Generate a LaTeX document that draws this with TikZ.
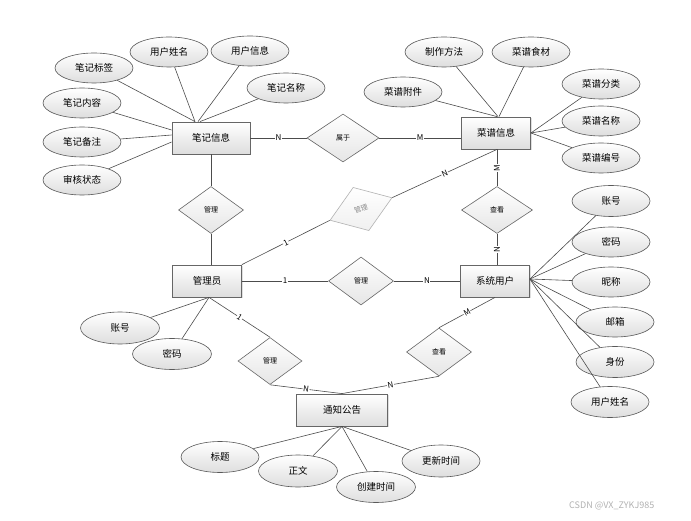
\documentclass[tikz,border=0pt]{standalone}
\usepackage{fontspec}
\setmainfont{Noto Sans CJK SC}
\usetikzlibrary{shapes.geometric,shadows}
\begin{document}
\begin{tikzpicture}[x=1pt,y=-1pt,
 ent/.style={rectangle,draw=black!60,line width=0.8pt,top color=white,bottom color=black!13,minimum width=69pt,minimum height=32pt,inner sep=0pt,font=\fontsize{9.5}{10}\selectfont,drop shadow={shadow xshift=1pt,shadow yshift=-1pt,opacity=0.25}},
 attr/.style={ellipse,draw=black!65,line width=0.6pt,top color=white,bottom color=black!13,minimum width=78pt,minimum height=30pt,inner sep=0pt,font=\fontsize{9.5}{10}\selectfont},
 rel/.style={diamond,draw=black!60,line width=0.6pt,top color=white,bottom color=black!10,minimum width=65pt,minimum height=47pt,inner sep=0pt,font=\fontsize{7}{8}\selectfont},
 con/.style={draw=black!70,line width=0.6pt},
 card/.style={fill=white,inner sep=0.6pt,font=\fontsize{8}{8}\selectfont,sloped}
]
\fill[white] (0,0) rectangle (691,521);
\useasboundingbox (0,0) rectangle (691,521);

% entities
\node[ent,minimum width=78pt] (nb) at (211,138) {笔记信息};
\node[ent] (cp) at (496,133) {菜谱信息};
\node[ent] (gly) at (207,281) {管理员};
\node[ent] (xt) at (495,281) {系统用户};
\node[ent,minimum width=91pt] (tz) at (342,410) {通知公告};

% relations
\node[rel,minimum width=72pt,minimum height=48pt] (sy) at (343,138) {属于};
\node[rel] (gl1) at (211,210) {管理};
\node[rel,minimum width=71pt] (ck1) at (497,210) {查看};
\node[rel,minimum height=48pt] (gl2) at (361,281) {管理};
\node[rel,minimum width=64pt] (gl3) at (270,361) {管理};
\node[rel,minimum height=48pt] (ck2) at (439,352) {查看};
\node[rel,rotate=20,draw=black!30,bottom color=black!6,text=black!45,minimum width=66pt,minimum height=46pt] (gl4) at (361,209) {管理};

% note attributes
\node[attr] (a1) at (94,68) {笔记标签};
\node[attr] (a2) at (169,52) {用户姓名};
\node[attr] (a3) at (250,51) {用户信息};
\node[attr] (a4) at (286,88) {笔记名称};
\node[attr] (a5) at (82,103) {笔记内容};
\node[attr] (a6) at (82,142) {笔记备注};
\node[attr] (a7) at (82,180) {审核状态};

% recipe attributes
\node[attr] (b1) at (444,52) {制作方法};
\node[attr] (b2) at (531,52) {菜谱食材};
\node[attr] (b3) at (403,92) {菜谱附件};
\node[attr] (b4) at (601,84) {菜谱分类};
\node[attr] (b5) at (601,121) {菜谱名称};
\node[attr] (b6) at (601,158) {菜谱编号};

% admin attributes
\node[attr,minimum width=79pt,minimum height=32pt] (c1) at (120,328) {账号};
\node[attr,minimum width=79pt,minimum height=31pt] (c2) at (172,354) {密码};

% user attributes
\node[attr,minimum height=31pt] (d1) at (611,201) {账号};
\node[attr] (d2) at (611,242) {密码};
\node[attr] (d3) at (611,282) {昵称};
\node[attr] (d4) at (615,322) {邮箱};
\node[attr,minimum height=31pt] (d5) at (615,362) {身份};
\node[attr,minimum height=31pt] (d6) at (610,402) {用户姓名};

% notice attributes
\node[attr,minimum height=31pt] (e1) at (220,457) {标题};
\node[attr,minimum width=79pt,minimum height=32pt] (e2) at (298,471) {正文};
\node[attr,minimum width=79pt,minimum height=31pt] (e3) at (376,487) {创建时间};
\node[attr,minimum height=32pt] (e4) at (441,461) {更新时间};

% attribute connectors
\draw[con] (a1) -- ([xshift=-16pt]nb.north);
\draw[con] (a2) -- ([xshift=-16pt]nb.north);
\draw[con] (a3) -- ([xshift=-13pt]nb.north);
\draw[con] (a4) -- ([xshift=-11pt]nb.north);
\draw[con] (a5) -- ([yshift=8pt]nb.west);
\draw[con] (a6) -- ([yshift=3pt]nb.west);
\draw[con] (a7) -- ([yshift=-4pt]nb.west);

\draw[con] (b3) -- ([xshift=1pt]cp.north);
\draw[con] (b1) -- ([xshift=2pt]cp.north);
\draw[con] (b2) -- ([xshift=3pt]cp.north);
\draw[con] (b4) -- (cp.east);
\draw[con] (b5) -- (cp.east);
\draw[con] (b6) -- (cp.east);

\draw[con] (c1) -- ([xshift=2pt]gly.south);
\draw[con] (c2) -- ([xshift=2pt]gly.south);

\foreach \d in {d1,d2,d3,d4,d5,d6} \draw[con] (\d) -- ([yshift=2pt]xt.east);

\foreach \e in {e1,e2,e3,e4} \draw[con] (\e) -- (tz.south);

% relation connectors
\draw[con] (nb.east) -- node[card]{N} (sy.west);
\draw[con] (sy.east) -- node[card]{M} (sy.east -| cp.west);
\draw[con] (nb.south) -- (nb.south |- gl1.north);
\draw[con] (gl1.south) -- (gl1.south |- gly.north);
\draw[con] (gly.north east) -- node[card]{1} (gl4.west);
\draw[con] (gl4.east) -- node[card]{N} ([xshift=1pt]cp.south);
\draw[con] (ck1.north) -- node[card]{M} (ck1.north |- cp.south);
\draw[con] (ck1.south |- xt.north) -- node[card]{N} (ck1.south);
\draw[con] (gly.east) -- node[card]{1} (gl2.west);
\draw[con] (gl2.east) -- node[card]{N} (xt.west);
\draw[con] ([xshift=2pt]gly.south) -- node[card]{1} (gl3.north);
\draw[con] (gl3.south) -- node[card]{N} (tz.north);
\draw[con] (xt.south) -- node[card]{M} (ck2.north);
\draw[con] (ck2.south) -- node[card]{N} (tz.north);

% watermark
\node[font=\fontsize{9}{9}\selectfont,text=black!30,anchor=west,inner sep=0pt] (wm) at (569,506) {CSDN @VX\_ZYKJ985};
\end{tikzpicture}
\end{document}
